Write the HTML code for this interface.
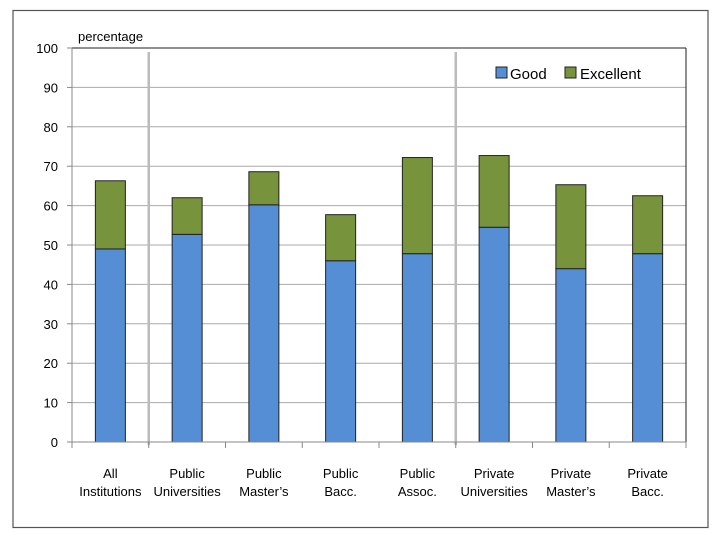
<!DOCTYPE html>
<html><head><meta charset="utf-8"><style>
body{margin:0;background:#fff;width:720px;height:540px;overflow:hidden}
svg{font-family:"Liberation Sans",sans-serif}
</style></head><body>
<svg width="720" height="540">
<rect x="13" y="10.5" width="695" height="517" fill="#fff" stroke="#555" stroke-width="1.2"/>
<g id="grid"></g><g id="bars"></g><g id="axes"></g>
</svg>
<script>
const categories=[["All","Institutions"],["Public","Universities"],["Public","Master’s"],["Public","Bacc."],["Public","Assoc."],["Private","Universities"],["Private","Master’s"],["Private","Bacc."]];
const good=[49,52.7,60.2,46,47.8,54.5,44,47.8];
const excellent=[17.3,9.3,8.4,11.7,24.4,18.2,21.3,14.7];
const yTicks=[0,10,20,30,40,50,60,70,80,90,100];
const NS="http://www.w3.org/2000/svg";
const L=72,R=686,T=48,B=442;
const y=v=>B-(v/100)*(B-T);
const step=(R-L)/categories.length;
const xc=i=>L+step*(i+0.5);
function mk(tag,attrs,parent,txt){const e=document.createElementNS(NS,tag);for(const k in attrs)e.setAttribute(k,attrs[k]);if(txt!==undefined)e.textContent=txt;parent.appendChild(e);return e;}
const grid=document.getElementById('grid'),bars=document.getElementById('bars'),axes=document.getElementById('axes');
yTicks.forEach(t=>{
 const l=mk('line',{x1:L,x2:R,y1:y(t),y2:y(t),stroke:t==100?'#222':'#aaa','stroke-width':1},grid);
 
 const tl=mk('line',{x1:L-5,x2:L,y1:y(t),y2:y(t),stroke:'#888'},axes);
 
 const tx=mk('text',{x:L-14,y:y(t)+5,'text-anchor':'end','font-size':13,fill:'#000'},axes,t);
 
});
[1,5].forEach(i=>{const s=mk('line',{x1:L+step*i,x2:L+step*i,y1:T+4,y2:B+3,stroke:'#bbb','stroke-width':2.5},grid);
 });
const rl=mk('line',{x1:R,x2:R,y1:T,y2:B,stroke:'#222'},grid);

const bw=30;
categories.forEach((c,i)=>{
 const g=mk('rect',{x:xc(i)-bw/2,y:y(good[i]),width:bw,height:y(0)-y(good[i]),fill:'#558ed5',stroke:'#222','stroke-width':1},bars);
 
 const tot=good[i]+excellent[i];
 const e=mk('rect',{x:xc(i)-bw/2,y:y(tot),width:bw,height:y(good[i])-y(tot),fill:'#77933c',stroke:'#222','stroke-width':1},bars);
 
 c.forEach((ln,j)=>{const t=mk('text',{x:xc(i),y:478+j*18,'text-anchor':'middle','font-size':13,fill:'#000'},axes,ln);
  });
});
for(let i=0;i<=categories.length;i++){const t=mk('line',{x1:L+step*i,x2:L+step*i,y1:B,y2:B+6,stroke:'#888'},axes);
 }
const xa=mk('line',{x1:L,x2:R,y1:B,y2:B,stroke:'#888'},axes);

const ya=mk('line',{x1:L,x2:L,y1:T,y2:B,stroke:'#888'},axes);

const yt=mk('text',{x:78,y:41,'font-size':13,fill:'#000'},axes,'percentage');

const lg=mk('g',{},axes);
const r1=mk('rect',{x:496,y:67,width:11,height:11,fill:'#558ed5',stroke:'#222'},lg);

const t1=mk('text',{x:510,y:79,'font-size':15,fill:'#000'},lg,'Good');

const r2=mk('rect',{x:565,y:67,width:11,height:11,fill:'#77933c',stroke:'#222'},lg);

const t2=mk('text',{x:580,y:79,'font-size':15,fill:'#000'},lg,'Excellent');

</script>
</body></html>
